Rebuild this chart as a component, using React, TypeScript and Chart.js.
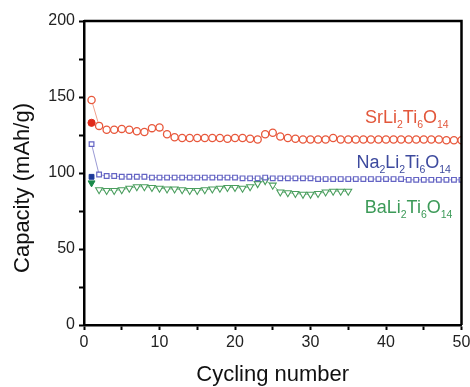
import React, { useEffect, useRef } from "react";
import { Chart, registerables } from "chart.js";

Chart.register(...registerables);

const cycles: number[] = Array.from({ length: 50 }, (_, i) => i + 1);

const srValues: number[] = [
  148, 131, 128.5, 128.5, 129, 128.5, 127.5, 127, 129.5, 130,
  125.5, 123.5, 123, 123, 123, 123, 123, 123, 122.5, 123,
  123, 122.5, 122, 125.5, 126.5, 124, 123, 122.5, 122, 122,
  122, 122, 123, 122, 122, 122, 122, 122, 122, 122,
  122, 122, 122, 122, 122, 122, 122, 121.5, 121.5, 121.5,
];

const naValues: number[] = [
  119, 99, 98, 98, 97.5, 97.5, 97.5, 97.5, 97, 97,
  97, 97, 97, 97, 97, 97, 97, 97, 97, 97,
  96.5, 96.5, 96.5, 97, 96.5, 96.5, 96.5, 96.5, 96.5, 96.5,
  96, 96, 96, 96, 96, 96, 96, 96, 96, 96,
  96, 96, 95.5, 95.5, 95.5, 95.5, 95.5, 95.5, 95.5, 95.5,
];

const baCycles: number[] = Array.from({ length: 34 }, (_, i) => i + 2);
const baValues: number[] = [
  89, 88.5, 88.5, 89, 90, 91, 91, 90.5, 90, 89.5,
  89.5, 89, 88.5, 88.5, 89, 89.5, 90, 90.5, 90.5, 90,
  91, 93, 95, 92, 87.5, 87, 86.5, 86, 86, 86.5,
  87.5, 88, 88, 88,
];

const firstCycle = [1];
const srFirst = [133];
const naFirst = [97.5];
const baFirst = [93.5];

const xTitle = "Cycling number";
const yTitle = "Capacity (mAh/g)";

type Seg = [string, boolean];
const labels: { segs: Seg[]; color: string; x: number; y: number }[] = [
  { segs: [["SrLi", false], ["2", true], ["Ti", false], ["6", true], ["O", false], ["14", true]], color: "#e2573b", x: 48.3, y: 133 },
  { segs: [["Na", false], ["2", true], ["Li", false], ["2", true], ["Ti", false], ["6", true], ["O", false], ["14", true]], color: "#3d4a9e", x: 48.6, y: 103.3 },
  { segs: [["BaLi", false], ["2", true], ["Ti", false], ["6", true], ["O", false], ["14", true]], color: "#3c9a58", x: 48.8, y: 73.7 },
];

const FONT = "'Liberation Sans', Arial, sans-serif";

const decor = {
  id: "decor",
  afterDraw(chart: any) {
    const { ctx, chartArea, scales } = chart;
    ctx.save();
    ctx.strokeStyle = "#000";
    ctx.lineWidth = 2.5;
    ctx.beginPath();
    ctx.moveTo(chartArea.left, chartArea.top);
    ctx.lineTo(chartArea.right, chartArea.top);
    ctx.lineTo(chartArea.right, chartArea.bottom);
    ctx.stroke();
    for (const lab of labels) {
      const main = `18px ${FONT}`;
      const sub = `10.5px ${FONT}`;
      let total = 0;
      for (const [t, s] of lab.segs) {
        ctx.font = s ? sub : main;
        total += ctx.measureText(t).width;
      }
      let x = scales.x.getPixelForValue(lab.x) - total;
      const y = scales.y.getPixelForValue(lab.y);
      ctx.fillStyle = lab.color;
      ctx.textAlign = "left";
      ctx.textBaseline = "alphabetic";
      for (const [t, s] of lab.segs) {
        ctx.font = s ? sub : main;
        ctx.fillText(t, x, s ? y + 5 : y);
        x += ctx.measureText(t).width;
      }
    }
    ctx.fillStyle = "#111";
    ctx.font = `22px ${FONT}`;
    ctx.textAlign = "center";
    ctx.textBaseline = "alphabetic";
    ctx.fillText(xTitle, (chartArea.left + chartArea.right) / 2, 381);
    ctx.translate(23, 188);
    ctx.rotate(-Math.PI / 2);
    ctx.textBaseline = "middle";
    ctx.fillText(yTitle, 0, 0);
    ctx.restore();
  },
};

const toXY = (xs: number[], ys: number[]) => xs.map((x, i) => ({ x, y: ys[i] }));

export default function App() {
  const ref = useRef<HTMLCanvasElement | null>(null);
  useEffect(() => {
    if (!ref.current) return;
    const chart = new Chart(ref.current, {
      type: "line",
      data: {
        datasets: [
          {
            label: "Sr",
            data: toXY(cycles, srValues),
            borderColor: "#f0a08c",
            borderWidth: 1,
            pointStyle: "circle",
            pointRadius: 3.6,
            pointBorderColor: "#e8583c",
            pointBackgroundColor: "#ffffff",
            pointBorderWidth: 1.3,
          },
          {
            label: "Na",
            data: toXY(cycles, naValues),
            borderColor: "#9a9ad4",
            borderWidth: 1,
            pointStyle: "rect",
            pointRadius: 3.3,
            pointBorderColor: "#6464c4",
            pointBackgroundColor: "#ffffff",
            pointBorderWidth: 1.2,
          },
          {
            label: "Ba",
            data: toXY(baCycles, baValues),
            borderColor: "#8cc49a",
            borderWidth: 1,
            pointStyle: "triangle",
            pointRotation: 180,
            pointRadius: 4,
            pointBorderColor: "#4a9e5e",
            pointBackgroundColor: "#ffffff",
            pointBorderWidth: 1.1,
          },
          {
            label: "SrFirst",
            data: toXY(firstCycle, srFirst),
            showLine: false,
            pointStyle: "circle",
            pointRadius: 3.6,
            pointBorderColor: "#e02a1a",
            pointBackgroundColor: "#e02a1a",
          },
          {
            label: "NaFirst",
            data: toXY(firstCycle, naFirst),
            showLine: false,
            pointStyle: "rect",
            pointRadius: 3.4,
            pointBorderColor: "#1e3a9a",
            pointBackgroundColor: "#1e3a9a",
          },
          {
            label: "BaFirst",
            data: toXY(firstCycle, baFirst),
            showLine: false,
            pointStyle: "triangle",
            pointRotation: 180,
            pointRadius: 4,
            pointBorderColor: "#1a8a4a",
            pointBackgroundColor: "#1a8a4a",
          },
        ],
      },
      options: {
        responsive: false,
        animation: false,
        layout: { padding: { top: 21, right: 8.5, left: 0, bottom: 0 } },
        plugins: { legend: { display: false }, tooltip: { enabled: false } },
        scales: {
          x: {
            type: "linear",
            min: 0,
            max: 50,
            border: { color: "#000", width: 2.5 },
            grid: { drawOnChartArea: false, drawTicks: true, tickLength: 5, tickColor: "#000", tickWidth: 2 },
            ticks: {
              stepSize: 5,
              autoSkip: false,
              maxRotation: 0,
              padding: 3,
              color: "#222",
              font: { family: FONT, size: 16 },
              callback: (v: any) => (Number(v) % 10 === 0 ? String(v) : ""),
            },
            afterFit: (s: any) => { s.height = 62; s.paddingRight = 0; s.paddingLeft = 0; },
          },
          y: {
            type: "linear",
            min: 0,
            max: 200,
            border: { color: "#000", width: 2.5 },
            grid: { drawOnChartArea: false, drawTicks: true, tickLength: 5, tickColor: "#000", tickWidth: 2 },
            ticks: {
              stepSize: 25,
              autoSkip: false,
              padding: 4,
              color: "#222",
              font: { family: FONT, size: 16 },
              callback: (v: any) => (Number(v) % 50 === 0 ? String(v) : ""),
            },
            afterFit: (s: any) => { s.width = 84; s.paddingTop = 0; s.paddingBottom = 0; },
          },
        },
      },
      plugins: [decor],
    } as any);
    return () => chart.destroy();
  }, []);
  return (
    <div style={{ position: "absolute", left: 0, top: 0, width: 470, height: 387, background: "#fff" }}>
      <canvas ref={ref} width={470} height={387} />
    </div>
  );
}
